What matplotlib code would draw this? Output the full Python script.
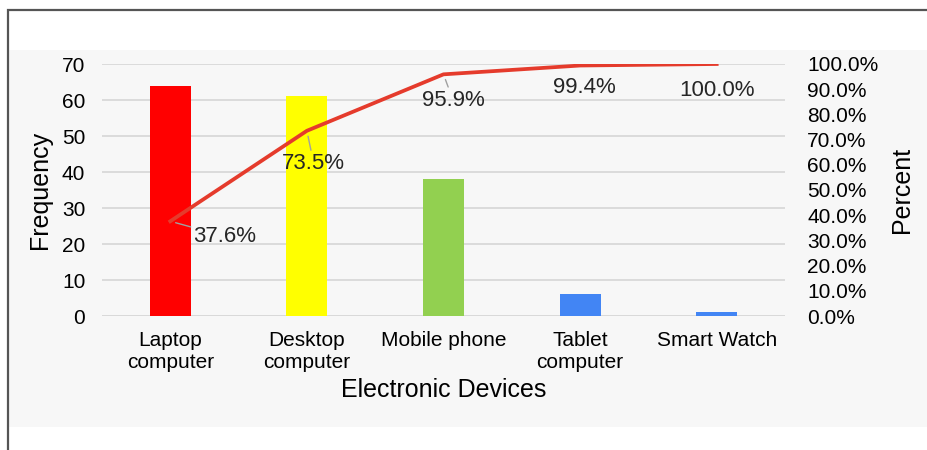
import matplotlib.pyplot as plt
from matplotlib.patches import Rectangle
from matplotlib.ticker import PercentFormatter

plt.rcParams['font.family'] = ['Liberation Sans', 'DejaVu Sans']

# Pareto data for electronic devices
devices = ['Laptop\ncomputer', 'Desktop\ncomputer', 'Mobile phone', 'Tablet\ncomputer', 'Smart Watch']
frequency = [64, 61, 38, 6, 1]
cumulative_pct = [37.6, 73.5, 95.9, 99.4, 100.0]
bar_colors = ['#ff0000', '#ffff00', '#92d050', '#4285f4', '#4285f4']
freq_ticks = [0, 10, 20, 30, 40, 50, 60, 70]
pct_ticks = [0, 10, 20, 30, 40, 50, 60, 70, 80, 90, 100]

fig = plt.figure(figsize=(9.28, 4.5), dpi=100)
fig.patch.set_facecolor('white')

# light panel behind the chart and the thin frame
fig.patches.append(Rectangle((8 / 928, 1 - 427 / 450), 1, 377 / 450,
                             transform=fig.transFigure, facecolor='#f7f7f7',
                             edgecolor='none', zorder=-10))
fig.patches.append(Rectangle((7.5 / 928, -0.1), 1.2, 1 - 10 / 450 + 0.1,
                             transform=fig.transFigure, facecolor='none',
                             edgecolor='#555555', linewidth=1.6, zorder=-5))

ax = fig.add_axes([102 / 928, 1 - 316 / 450, 683 / 928, 252 / 450])
ax.set_facecolor('none')
x = list(range(len(devices)))
ax.bar(x, frequency, width=0.3, color=bar_colors, zorder=3)

ax.set_xlim(-0.5, len(devices) - 0.5)
ax.set_ylim(0, 70)
ax.set_yticks(freq_ticks)
ax.grid(axis='y', color='#d9d9d9', linewidth=1.3, zorder=0)
for s in ax.spines.values():
    s.set_visible(False)
ax.axhline(0, color='#d9d9d9', linewidth=1.3, zorder=2)

ax.set_xticks(x)
ax.set_xticklabels(devices, fontsize=15, linespacing=1.15)
ax.tick_params(axis='x', length=0, pad=11)
ax.tick_params(axis='y', length=0, pad=12, labelsize=15)
ax.set_xlabel('Electronic Devices', fontsize=18, labelpad=5)
ax.set_ylabel('Frequency', fontsize=18, labelpad=7)

ax2 = ax.twinx()
ax2.set_ylim(0, 100)
ax2.set_yticks(pct_ticks)
ax2.yaxis.set_major_formatter(PercentFormatter(decimals=1))
ax2.tick_params(axis='y', length=0, pad=16, labelsize=15)
for s in ax2.spines.values():
    s.set_visible(False)
ax2.set_ylabel('Percent', fontsize=18, labelpad=8)

ax2.plot(x, cumulative_pct, color='#e53b2c', linewidth=2.7, zorder=4)

# cumulative labels; the first three get a small leader line
offsets = [(0.4, -6), (0.05, -13), (0.07, -10.3), (0.03, -8.7), (0.0, -10.7)]
for i, (xi, p, (dx, dy)) in enumerate(zip(x, cumulative_pct, offsets)):
    leader = dict(arrowstyle='-', color='#a0a0a0', lw=1.0,
                  shrinkA=0, shrinkB=4) if i < 3 else None
    ax2.annotate(f'{p:.1f}%', xy=(xi, p), xytext=(xi + dx, p + dy),
                 ha='center', va='center', fontsize=16, color='#262626',
                 arrowprops=leader)

fig.savefig('out.png', dpi=100)
